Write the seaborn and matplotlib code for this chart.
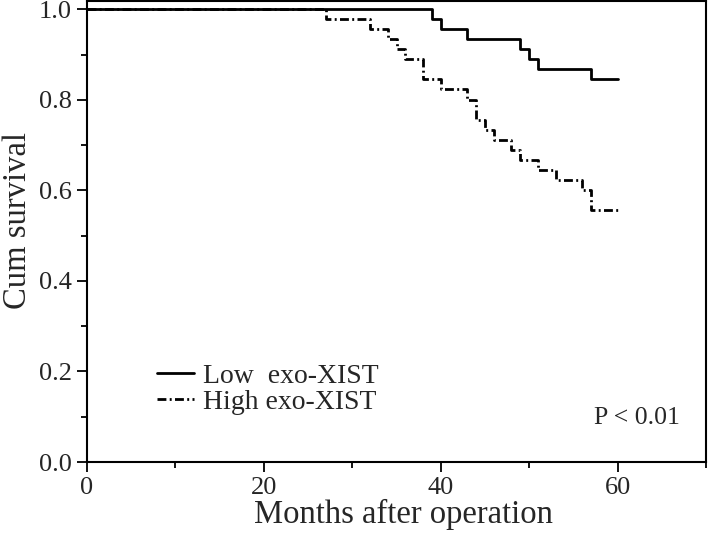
import matplotlib
matplotlib.use("Agg")
import matplotlib.pyplot as plt
import seaborn as sns
import pandas as pd
from matplotlib.ticker import MultipleLocator

# Data
low_months = [0, 39, 40, 43, 49, 50, 51, 57, 60]
low_surv = [1.0, 0.978, 0.956, 0.934, 0.912, 0.890, 0.868, 0.846, 0.846]
high_months = [0, 27, 32, 34, 35, 36, 38, 40, 43, 44, 45, 46, 48, 49, 51, 53, 56, 57, 60]
high_surv = [1.0, 0.978, 0.956, 0.934, 0.912, 0.890, 0.846, 0.824, 0.800, 0.756,
             0.734, 0.712, 0.688, 0.666, 0.644, 0.622, 0.600, 0.556, 0.556]
group_labels = ["Low  exo-XIST", "High exo-XIST"]
x_ticks = [0, 20, 40, 60]
y_ticks = [0.0, 0.2, 0.4, 0.6, 0.8, 1.0]

df = pd.concat([
    pd.DataFrame({"Months": low_months, "Surv": low_surv, "Group": group_labels[0]}),
    pd.DataFrame({"Months": high_months, "Surv": high_surv, "Group": group_labels[1]}),
])

sns.set_style("ticks")
plt.rcParams["font.family"] = ["Liberation Serif", "DejaVu Serif"]

fig = plt.figure(figsize=(7.09, 5.36), dpi=100)
ax = fig.add_axes([0.1227, 0.138, 0.8731, 0.860])

sns.lineplot(data=df[df.Group == group_labels[1]], x="Months", y="Surv", ax=ax,
             drawstyle="steps-post", color="black", linewidth=2.0,
             linestyle=(0, (3.2, 1.2, 0.7, 1.2)), label=group_labels[1], zorder=2)
sns.lineplot(data=df[df.Group == group_labels[0]], x="Months", y="Surv", ax=ax,
             drawstyle="steps-post", color="black", linewidth=2.0,
             linestyle="-", label=group_labels[0], zorder=3)

ax.set_xlim(0, 70)
ax.set_ylim(0, 1.018)
ax.set_xticks(x_ticks)
ax.set_yticks(y_ticks)
ax.set_yticklabels([f"{v:.1f}" for v in y_ticks])
ax.xaxis.set_minor_locator(MultipleLocator(10))
ax.yaxis.set_minor_locator(MultipleLocator(0.1))
ax.tick_params(which="major", length=7, width=1.3, labelsize=19, direction="out",
               color="black", pad=4)
ax.tick_params(which="minor", length=4, width=1.3, direction="out", color="black")
for s in ax.spines.values():
    s.set_linewidth(1.5)
    s.set_color("black")

ax.set_xlabel("Months after operation", fontsize=23.5, labelpad=0)
ax.set_ylabel("Cum survival", fontsize=23.5, labelpad=4)
ax.xaxis.label.set_x(0.512)
ax.yaxis.label.set_y(0.523)

handles, labels = ax.get_legend_handles_labels()
order = [labels.index(group_labels[0]), labels.index(group_labels[1])]
ax.legend([handles[i] for i in order], [labels[i] for i in order],
          loc="center left", bbox_to_anchor=(0.113, 0.158), frameon=False,
          borderpad=0, borderaxespad=0,
          fontsize=20, handlelength=1.35, handletextpad=0.3, labelspacing=0.0)

ax.text(0.958, 0.095, "P < 0.01", transform=ax.transAxes, ha="right", va="center",
        fontsize=18.5)

fig.savefig("out.png", dpi=100)
